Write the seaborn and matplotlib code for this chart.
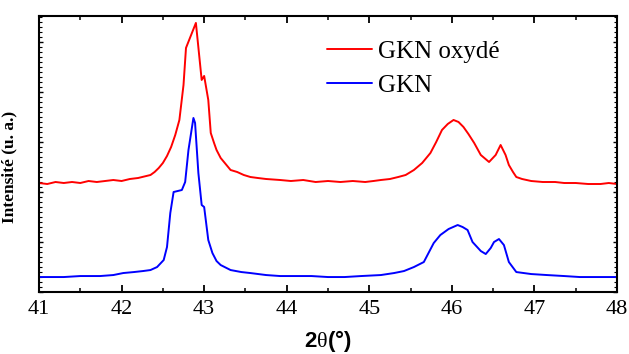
import numpy as np
import pandas as pd
import matplotlib
matplotlib.use("Agg")
import matplotlib.pyplot as plt
from matplotlib.ticker import MultipleLocator
import seaborn as sns

# ---- data (intensity in arbitrary units) ----
two_theta_oxyde = [41.00, 41.10, 41.20, 41.30, 41.40, 41.50, 41.60, 41.70, 41.80, 41.90,
                   42.00, 42.10, 42.20, 42.30, 42.35, 42.40, 42.45, 42.50, 42.55, 42.60,
                   42.65, 42.70, 42.75, 42.78, 42.90, 42.97, 43.00, 43.05, 43.08, 43.12,
                   43.15, 43.20, 43.25, 43.32, 43.40, 43.48, 43.56, 43.65, 43.75, 43.92,
                   44.05, 44.20, 44.35, 44.50, 44.65, 44.80, 44.95, 45.05, 45.14, 45.25,
                   45.35, 45.44, 45.54, 45.64, 45.74, 45.81, 45.88, 45.95, 46.02, 46.08,
                   46.14, 46.20, 46.27, 46.35, 46.45, 46.53, 46.59, 46.65, 46.69, 46.74,
                   46.78, 46.85, 46.96, 47.10, 47.25, 47.36, 47.50, 47.65, 47.80, 47.90, 48.00]
intensity_oxyde = [109, 108, 110, 109, 110, 109, 111, 110, 111, 112,
                   111, 113, 114, 116, 117, 120, 124, 129, 136, 145,
                   157, 172, 207, 244, 269, 212, 216, 192, 159, 149,
                   142, 134, 129, 122, 120, 117, 115, 114, 113, 112,
                   111, 112, 110, 111, 110, 111, 110, 111, 112, 113,
                   115, 117, 122, 129, 139, 150, 162, 168, 172, 170,
                   165, 158, 149, 137, 130, 137, 147, 137, 127, 120,
                   115, 113, 111, 110, 110, 109, 109, 108, 108, 109, 108]

two_theta_gkn = [41.00, 41.15, 41.30, 41.50, 41.74, 41.90, 42.02, 42.15, 42.26, 42.35,
                 42.43, 42.51, 42.55, 42.59, 42.63, 42.68, 42.73, 42.77, 42.81, 42.87,
                 42.89, 42.93, 42.97, 43.00, 43.05, 43.10, 43.15, 43.20, 43.32, 43.45,
                 43.56, 43.75, 43.92, 44.10, 44.30, 44.50, 44.70, 44.90, 45.14, 45.30,
                 45.42, 45.54, 45.66, 45.78, 45.86, 45.96, 46.07, 46.13, 46.19, 46.25,
                 46.35, 46.41, 46.47, 46.51, 46.57, 46.63, 46.69, 46.78, 46.96, 47.15,
                 47.36, 47.55, 47.75, 48.00]
intensity_gkn = [15, 15, 15, 16, 16, 17, 19, 20, 21, 22,
                 25, 32, 45, 79, 100, 101, 102, 110, 142, 174,
                 169, 119, 87, 85, 52, 39, 31, 27, 22, 20,
                 19, 17, 16, 16, 16, 15, 15, 16, 17, 19,
                 21, 25, 30, 49, 57, 63, 67, 65, 62, 50,
                 41, 38, 44, 50, 53, 47, 30, 20, 18, 17,
                 16, 15, 15, 15]

label_oxyde = "GKN oxydé"
label_gkn = "GKN"
x_ticks = [41, 42, 43, 44, 45, 46, 47, 48]

df = pd.concat([
    pd.DataFrame({"2theta": two_theta_oxyde, "I": intensity_oxyde, "série": label_oxyde}),
    pd.DataFrame({"2theta": two_theta_gkn, "I": intensity_gkn, "série": label_gkn}),
], ignore_index=True)

sns.set_style("ticks")
plt.rcParams["font.family"] = ["Liberation Serif", "DejaVu Serif"]
plt.rcParams["mathtext.fontset"] = "custom"
plt.rcParams["mathtext.rm"] = "Liberation Serif"
plt.rcParams["mathtext.bf"] = "Liberation Sans:bold"
plt.rcParams["mathtext.it"] = "Liberation Serif:italic"
plt.rcParams["text.color"] = "black"
plt.rcParams["axes.labelcolor"] = "black"
plt.rcParams["xtick.color"] = "black"
plt.rcParams["ytick.color"] = "black"
plt.rcParams["axes.edgecolor"] = "black"

fig = plt.figure(figsize=(6.29, 3.54), dpi=100)
ax = fig.add_axes([0.062, 0.175, 0.919, 0.780])

sns.lineplot(data=df, x="2theta", y="I", hue="série", sort=False,
             palette={label_oxyde: "#ff0000", label_gkn: "#0000ff"},
             linewidth=1.4, estimator=None, ax=ax)

ax.set_xlim(41, 48)
ax.set_ylim(0, 276)
ax.set_xticks(x_ticks)
ax.set_xticklabels([str(t) for t in x_ticks])
ax.xaxis.set_minor_locator(MultipleLocator(0.5))
ax.yaxis.set_major_locator(MultipleLocator(50))
ax.yaxis.set_minor_locator(MultipleLocator(5))
ax.set_yticklabels([])

for s in ax.spines.values():
    s.set_linewidth(1.5)
    s.set_color("black")
    s.set_visible(True)

ax.tick_params(axis="x", which="major", direction="in", length=5, width=1.3,
               top=True, labelsize=16, pad=6, colors="black")
ax.tick_params(axis="x", which="minor", direction="in", length=3, width=1.1, top=True)
ax.tick_params(axis="y", which="major", direction="in", length=3, width=1.0, right=True)
ax.tick_params(axis="y", which="minor", direction="in", length=2, width=0.8, right=True)

ax.set_xlabel(r"$\mathbf{2}\mathrm{\theta}\mathbf{(°)}$", fontsize=16, color="black")
ax.xaxis.set_label_coords(0.5, -0.13)
ax.set_ylabel("Intensité (u. a.)", fontsize=12.5, fontweight="bold", color="black")
ax.yaxis.set_label_coords(-0.038, 0.453)

leg = ax.legend(loc="upper left", bbox_to_anchor=(0.52, 0.885),
                bbox_transform=fig.transFigure, frameon=False, fontsize=18,
                handlelength=1.8, handletextpad=0.25, labelspacing=0.44,
                borderpad=0, borderaxespad=0, title=None)
for h in leg.get_lines():
    h.set_linewidth(1.4)
for t in leg.get_texts():
    t.set_color("black")

fig.savefig("out.png", dpi=100)
